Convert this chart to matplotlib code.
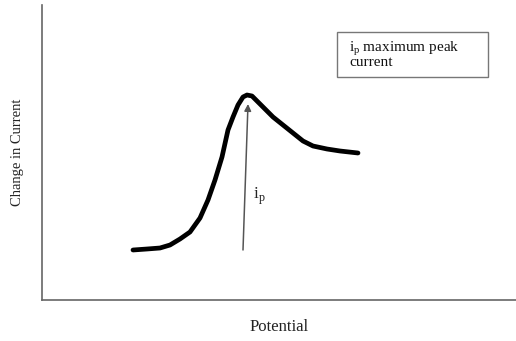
import matplotlib
matplotlib.use("Agg")
import matplotlib.pyplot as plt
from matplotlib.patches import FancyArrowPatch, Rectangle

# Voltammogram sketch: current response vs applied potential (arbitrary units)
potential = [133, 147, 160, 170, 180, 190, 200, 208, 215, 222, 228, 233, 238,
             243, 247, 252, 257, 263, 273, 283, 293, 303, 313, 327, 340, 358]
current = [50, 51, 52, 55, 61, 68, 82, 100, 120, 143, 170, 183, 195,
           203, 205, 204, 199, 193, 183, 175, 167, 159, 154, 151, 149, 147]

# Peak-current marker
peak_base = (243, 50)
peak_tip = (248, 196)

fig = plt.figure(figsize=(5.16, 3.41), dpi=100)
ax = fig.add_axes([42 / 516, 41 / 341, 474 / 516, 295 / 341])
ax.set_xlim(42, 516)
ax.set_ylim(0, 295)

serif = "Liberation Serif"

ax.plot(potential, current, color="black", lw=3.4, solid_joinstyle="round",
        solid_capstyle="round")

arrow = FancyArrowPatch(peak_base, peak_tip, arrowstyle="-|>", mutation_scale=10,
                        color="#555555", lw=1.1, shrinkA=0, shrinkB=0)
ax.add_patch(arrow)
ax.text(253, 104, r"i$_\mathregular{p}$", fontsize=12.5, family=serif, color="#222222",
        va="center", ha="left")

# Annotation box explaining the marker
ax.add_patch(Rectangle((337, 223), 151, 45, fc="white", ec="#777777", lw=1.0))
ax.text(349, 246, "i$_\\mathregular{p}$ maximum peak\ncurrent", fontsize=11,
        family=serif, va="center", ha="left", linespacing=0.8, color="#111111")

for side in ("top", "right"):
    ax.spines[side].set_visible(False)
for side in ("left", "bottom"):
    ax.spines[side].set_color("#666666")
    ax.spines[side].set_linewidth(1.2)
ax.set_xticks([])
ax.set_yticks([])

ax.set_xlabel("Potential", fontsize=12, family=serif, color="#222222", labelpad=14)
ax.set_ylabel("Change in Current", fontsize=10.5, family=serif, color="#222222", labelpad=13)

fig.savefig("out.png", dpi=100)
